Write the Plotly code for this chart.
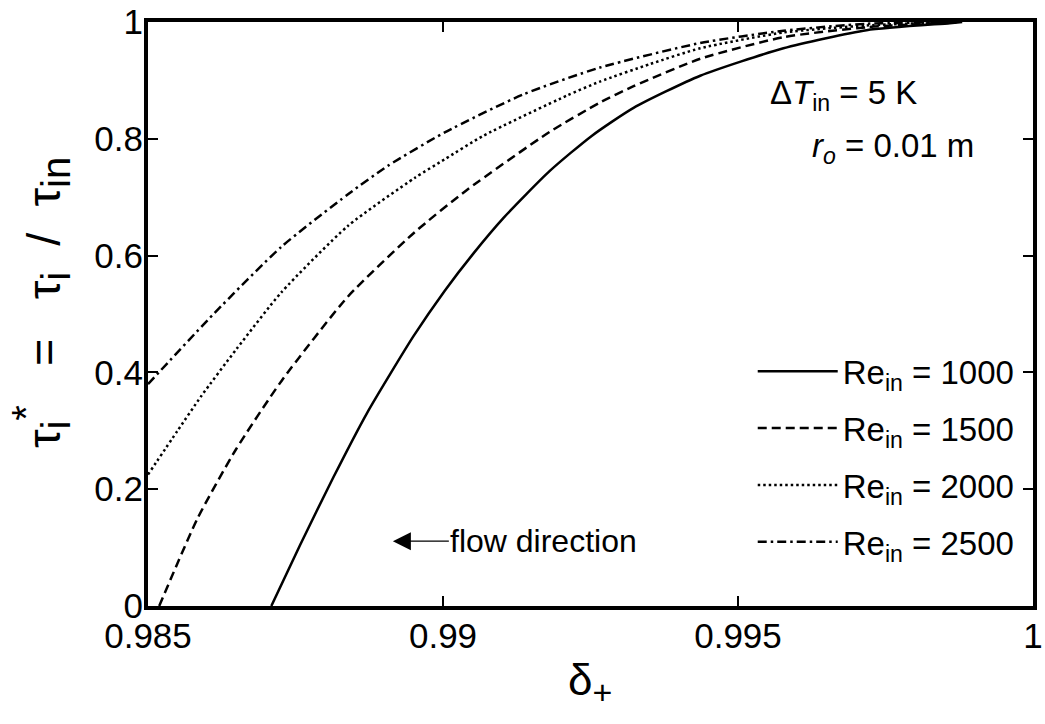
import plotly.graph_objects as go

# Data
re_labels = ["Re<sub>in</sub> = 1000", "Re<sub>in</sub> = 1500",
             "Re<sub>in</sub> = 2000", "Re<sub>in</sub> = 2500"]

x_1000 = [0.98709, 0.98758, 0.98814, 0.98871, 0.98950, 0.99003, 0.99051, 0.99103,
          0.99181, 0.99252, 0.99323, 0.99436, 0.99577, 0.99718, 0.99859, 0.99880]
y_1000 = [0.0, 0.105, 0.220, 0.330, 0.462, 0.540, 0.603, 0.665,
          0.745, 0.805, 0.853, 0.908, 0.955, 0.986, 0.998, 1.0]

x_1500 = [0.98519, 0.98584, 0.98649, 0.98726, 0.98839, 0.98952, 0.99040, 0.99181,
          0.99266, 0.99323, 0.99436, 0.99577, 0.99718, 0.99870]
y_1500 = [0.0, 0.150, 0.268, 0.385, 0.530, 0.640, 0.712, 0.812,
          0.862, 0.890, 0.937, 0.974, 0.991, 1.0]

x_2000 = [0.98500, 0.98550, 0.98590, 0.98650, 0.98726, 0.98839, 0.98952, 0.99003,
          0.99068, 0.99210, 0.99266, 0.99351, 0.99436, 0.99577, 0.99718, 0.99870]
y_2000 = [0.225, 0.300, 0.359, 0.440, 0.537, 0.651, 0.733, 0.765,
          0.805, 0.874, 0.898, 0.928, 0.955, 0.982, 0.994, 1.0]

x_2500 = [0.98500, 0.98613, 0.98726, 0.98839, 0.98907, 0.99003, 0.99136, 0.99266,
          0.99436, 0.99577, 0.99718, 0.99870]
y_2500 = [0.380, 0.502, 0.615, 0.705, 0.754, 0.811, 0.876, 0.922,
          0.964, 0.985, 0.997, 1.0]

x_ticks = [0.985, 0.99, 0.995, 1.0]
x_ticklabels = ["0.985", "0.99", "0.995", "1"]
y_ticks = [0, 0.2, 0.4, 0.6, 0.8, 1.0]
y_ticklabels = ["0", "0.2", "0.4", "0.6", "0.8", "1"]

FONT = "Arial, Liberation Sans, sans-serif"

series = [
    (x_1000, y_1000, "solid"),
    (x_1500, y_1500, "9px,5px"),
    (x_2000, y_2000, "2.5px,3px"),
    (x_2500, y_2500, "9px,4px,2.5px,4px"),
]

fig = go.Figure()
for i, ((xs, ys, dash), name) in enumerate(zip(series, re_labels)):
    fig.add_trace(go.Scatter(
        x=xs, y=ys, mode="lines", name=name, legendgroup="g%d" % i,
        line=dict(color="black", width=2.5, dash=dash, shape="spline", smoothing=0.6),
    ))

fig.update_layout(
    width=1045, height=724,
    margin=dict(l=148, r=12, t=22, b=118, autoexpand=False),
    paper_bgcolor="white", plot_bgcolor="white",
    font=dict(family=FONT, color="black"),
    showlegend=True,
    legend=dict(
        x=0.985, y=0.45, xanchor="right", yanchor="top",
        bgcolor="rgba(0,0,0,0)", borderwidth=0,
        font=dict(size=33, family=FONT, color="black"),
        itemwidth=80, tracegroupgap=11,
    ),
    xaxis=dict(
        range=[0.985, 1.0], tickvals=x_ticks, ticktext=x_ticklabels,
        ticks="inside", ticklen=10, tickwidth=2, tickcolor="black",
        showline=True, linewidth=4, linecolor="black", mirror="ticks",
        showgrid=False, zeroline=False, automargin=False,
        ticklabelstandoff=-4,
        tickfont=dict(size=35, family=FONT, color="black"),
    ),
    yaxis=dict(
        range=[0, 1.0], tickvals=y_ticks, ticktext=y_ticklabels,
        ticks="inside", ticklen=10, tickwidth=2, tickcolor="black",
        showline=True, linewidth=4, linecolor="black", mirror="ticks",
        showgrid=False, zeroline=False, automargin=False,
        ticklabelstandoff=-6,
        tickfont=dict(size=35, family=FONT, color="black"),
    ),
)

# axis titles
SUB = "<span style='font-size:40px'>%s</span>"
fig.add_annotation(
    xref="paper", yref="paper", x=-0.12, y=0.52, xanchor="center", yanchor="middle",
    textangle=-90, showarrow=False,
    text=("τ<sub>" + SUB % "i" + "</sub><sup>" + SUB % "*" + "</sup>&nbsp;&nbsp;&nbsp;=&nbsp;&nbsp;&nbsp;τ<sub>"
          + SUB % "i" + "</sub>&nbsp;&nbsp;/&nbsp;&nbsp;τ<sub>" + SUB % "in" + "</sub>"),
    font=dict(size=47, family=FONT, color="black"),
)
fig.add_annotation(
    xref="paper", yref="paper", x=0.499, y=-0.132, xanchor="center", yanchor="middle",
    showarrow=False,
    text="δ<sub><span style='font-size:34px'>+</span></sub>",
    font=dict(size=44, family=FONT, color="black"),
)

fig.add_annotation(
    xref="paper", yref="paper", x=0.7006, y=0.875, xanchor="left", yanchor="middle",
    text="Δ<i>T</i><sub>in</sub> = 5 K", showarrow=False,
    font=dict(size=33, family=FONT, color="black"),
)
fig.add_annotation(
    xref="paper", yref="paper", x=0.748, y=0.784, xanchor="left", yanchor="middle",
    text="<i>r</i><sub><i>o</i></sub> = 0.01 m", showarrow=False,
    font=dict(size=33, family=FONT, color="black"),
)
fig.add_annotation(
    x=0.98915, y=0.111, xref="x", yref="y",
    text="flow direction", showarrow=True,
    ax=151, ay=0, axref="pixel", ayref="pixel",
    arrowhead=2, arrowsize=3, arrowwidth=1.2, arrowcolor="black",
    font=dict(size=32, family=FONT, color="black"),
)

fig.write_html("out.html", config={"displayModeBar": False},
               post_script="document.body.style.margin='0px';")
